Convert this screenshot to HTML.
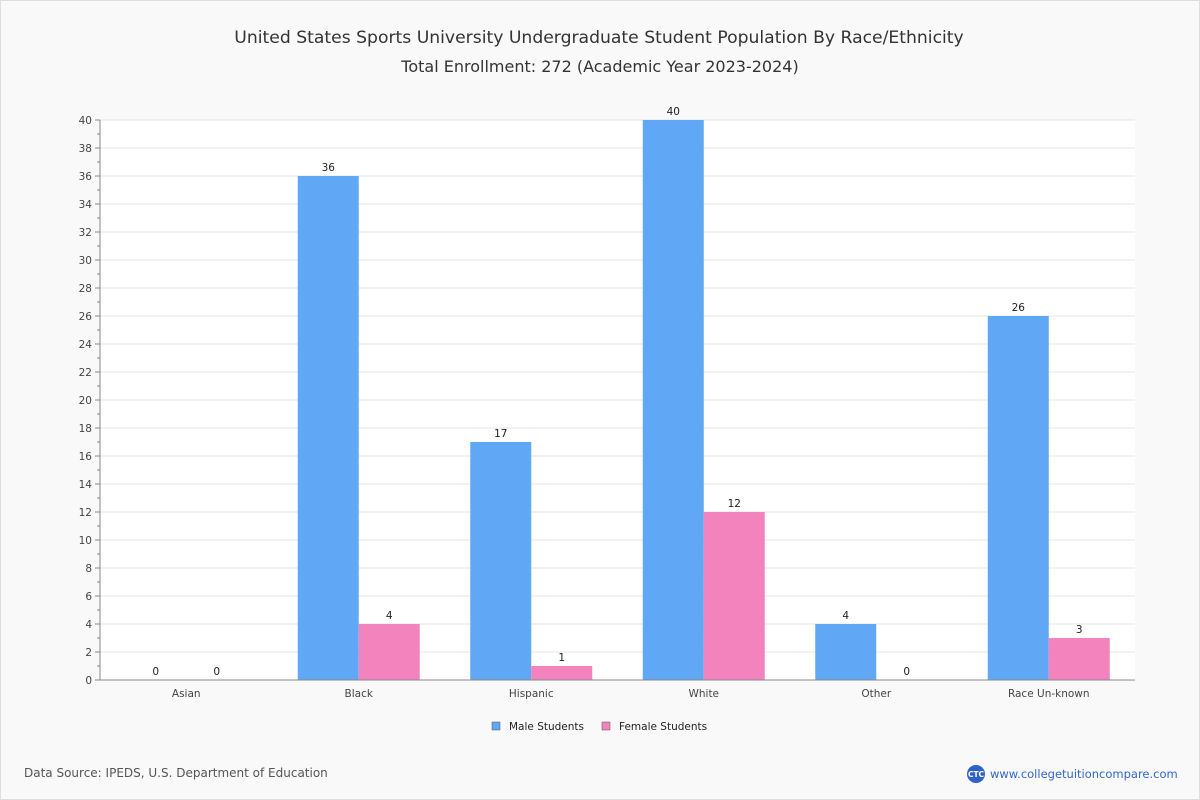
<!DOCTYPE html>
<html><head><meta charset="utf-8"><style>
body{margin:0;background:#fff}
#wrap{width:1200px;height:800px;background:#f9f9f9;position:relative;font-family:"DejaVu Sans","Liberation Sans",sans-serif}
</style></head><body>
<div id="wrap">
<svg id="chart" width="1200" height="800" style="position:absolute;left:0;top:0">
<rect x="0.5" y="0.5" width="1199" height="799" fill="none" stroke="#ddd"/>
<text x="599" y="43" text-anchor="middle" font-size="17.2" fill="#333">United States Sports University Undergraduate Student Population By Race/Ethnicity</text>
<text x="600" y="72" text-anchor="middle" font-size="16" fill="#333">Total Enrollment: 272 (Academic Year 2023-2024)</text>
<g id="grid"></g><g id="bars"></g><g id="axes"></g>
<g>
<rect x="492" y="722" width="8" height="8" fill="#60a8f5" stroke="#555" stroke-width="0.5"/>
<text x="509" y="730" font-size="10.5" fill="#222">Male Students</text>
<rect x="602" y="722" width="8" height="8" fill="#f283bd" stroke="#555" stroke-width="0.5"/>
<text x="619" y="730" font-size="10.5" fill="#222">Female Students</text>
</g>
<text x="24" y="777" font-size="12" fill="#555">Data Source: IPEDS, U.S. Department of Education</text>
<circle cx="976" cy="774" r="9" fill="#2f62c9"/>
<text x="976" y="777" text-anchor="middle" font-size="7.5" fill="#fff" font-weight="bold">CTC</text>
<text x="990" y="778" font-size="11.5" fill="#3366cc">www.collegetuitioncompare.com</text>
</svg>
</div>
<script>
const categories=["Asian","Black","Hispanic","White","Other","Race Un-known"];
const maleValues=[0,36,17,40,4,26];
const femaleValues=[0,4,1,12,0,3];
const yTicks=[0,2,4,6,8,10,12,14,16,18,20,22,24,26,28,30,32,34,36,38,40];
const NS="http://www.w3.org/2000/svg";
const L=100,R=1135,T=120,B=680,yMax=40;
const y=v=>B-(v/yMax)*(B-T);
const band=(R-L)/categories.length;
const bw=61;
function mk(tag,attrs,parent,txt){const e=document.createElementNS(NS,tag);for(const k in attrs)e.setAttribute(k,attrs[k]);if(txt!==undefined)e.textContent=txt;parent.appendChild(e);return e;}
const grid=document.getElementById('grid'),bars=document.getElementById('bars'),axes=document.getElementById('axes');
const bg=mk('rect',{x:L,y:T,width:R-L,height:B-T,fill:'#fff'},grid);


yTicks.forEach(t=>{
  const g=mk('line',{x1:L,x2:R,y1:y(t),y2:y(t),stroke:'#e4e4e4'},grid);
  
  
  const lb=mk('text',{x:L-8,y:y(t)+4,'text-anchor':'end','font-size':10.5,fill:'#444'},axes,String(t));
  
  
});
for(let v=0;v<=yMax;v++){
  const tk=mk('line',{x1:L-(v%2?3:5),x2:L,y1:y(v),y2:y(v),stroke:'#888'},axes);
  
  
}
const ya=mk('line',{x1:L,x2:L,y1:T,y2:B,stroke:'#888'},axes);


const xa=mk('line',{x1:L,x2:R,y1:B,y2:B,stroke:'#888'},axes);


categories.forEach((c,i)=>{
  const cx=L+band*(i+0.5);
  [[maleValues[i],cx-bw,'#60a8f5','male'],[femaleValues[i],cx,'#f283bd','female']].forEach(([v,x0,col,s])=>{
    const r=mk('rect',{x:x0,y:y(v),width:bw,height:B-y(v),fill:col},bars);
    
    
    const t=mk('text',{x:x0+bw/2,y:y(v)-5,'text-anchor':'middle','font-size':10.5,fill:'#222'},bars,String(v));
    
    
  });
  const xl=mk('text',{x:cx,y:B+17,'text-anchor':'middle','font-size':10.5,fill:'#444'},axes,c);
  
  
});
</script>
</body></html>
